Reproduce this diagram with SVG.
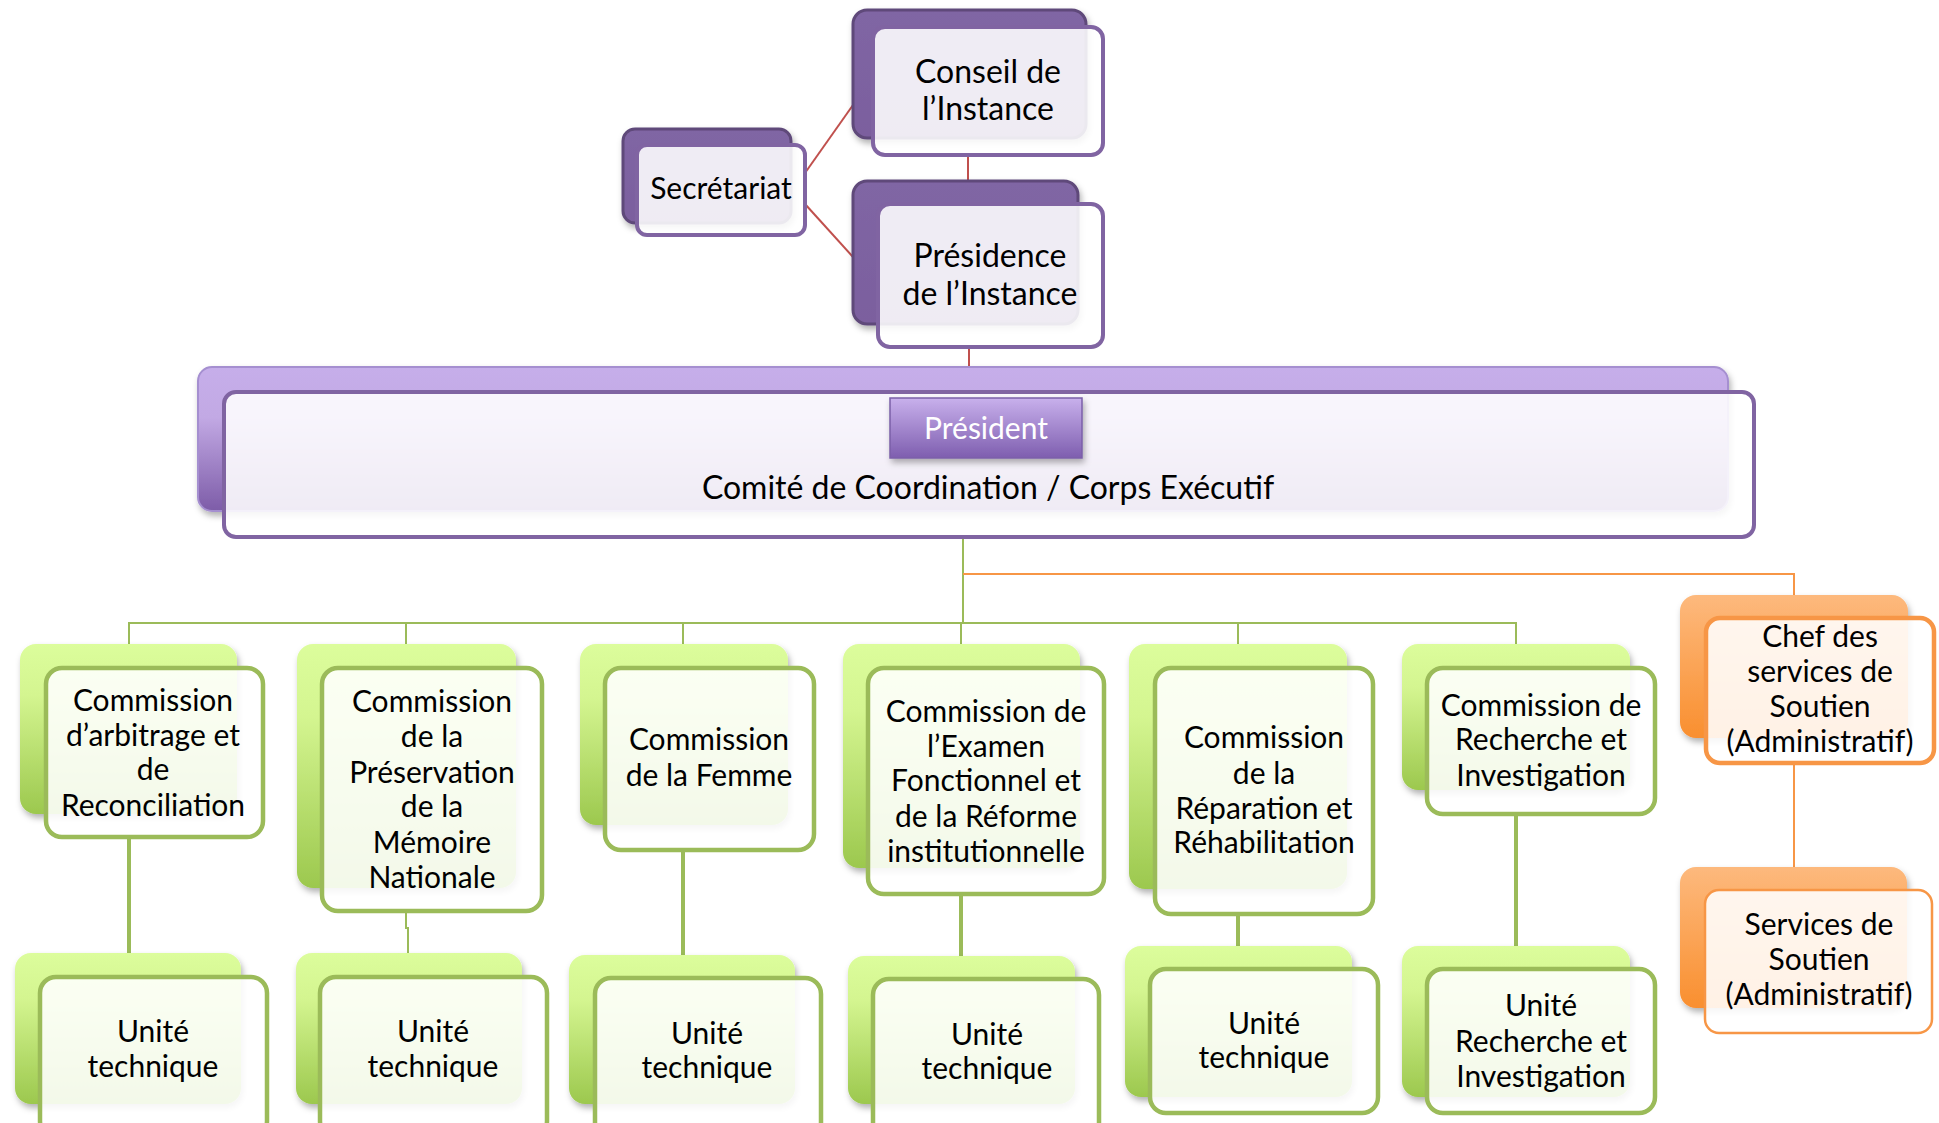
<svg xmlns="http://www.w3.org/2000/svg" width="1939" height="1123" viewBox="0 0 1939 1123">
<defs>
<linearGradient id="gPurple" x1="0" y1="0" x2="0" y2="1"><stop offset="0" stop-color="#8066a4"/><stop offset="1" stop-color="#7b5f9e"/></linearGradient>
<linearGradient id="gBig" x1="0" y1="0" x2="0" y2="1"><stop offset="0" stop-color="#c6aeea"/><stop offset="0.35" stop-color="#c2a9e4"/><stop offset="1" stop-color="#7d5ca8"/></linearGradient>
<linearGradient id="gPres" x1="0" y1="0" x2="0" y2="1"><stop offset="0" stop-color="#c8b0ec"/><stop offset="1" stop-color="#7e5eaf"/></linearGradient>
<linearGradient id="gGreen" x1="0" y1="0" x2="0" y2="1"><stop offset="0" stop-color="#dcfd9c"/><stop offset="0.3" stop-color="#d4f590"/><stop offset="1" stop-color="#9cc84e"/></linearGradient>
<linearGradient id="gOrange" x1="0" y1="0" x2="0" y2="1"><stop offset="0" stop-color="#fdb97d"/><stop offset="1" stop-color="#f98f2f"/></linearGradient>
<filter id="sh" x="-10%" y="-10%" width="125%" height="130%"><feDropShadow dx="2" dy="4" stdDeviation="3" flood-color="#000" flood-opacity="0.3"/></filter>
</defs>
<style>
text{font-family:Lato,"Open Sans","Liberation Sans",sans-serif;font-size:30px;fill:#000;text-anchor:middle}
.big{font-size:32px}
.pb{fill:url(#gPurple);stroke:#5f497a;stroke-width:3;filter:url(#sh)}
.pf{fill:#fff;fill-opacity:0.88;stroke:#8064a2;stroke-width:4}
.gb{fill:url(#gGreen);filter:url(#sh)}
.gf{fill:#fff;fill-opacity:0.88;stroke:#9bbb59;stroke-width:4.5}
.ob{fill:url(#gOrange);filter:url(#sh)}
.of{fill:#fff;fill-opacity:0.88;stroke:#f79646;stroke-width:4.5}
.of2{fill:#fff;fill-opacity:0.88;stroke:#f79646;stroke-width:2.5}
.red{stroke:#c0504d;stroke-width:2;fill:none}
.gl{stroke:#9bbb59;stroke-width:2;fill:none}
.gl2{stroke:#9bbb59;stroke-width:4;fill:none}
.ol{stroke:#f79646;stroke-width:2;fill:none}
</style>
<g id="connectors">
<path class="red" d="M805,173 L853,105"/>
<path class="red" d="M805,204 L853,257"/>
<path class="red" d="M968,155 L968,181"/>
<path class="red" d="M969,347 L969,368"/>
<path class="gl" d="M963,537 L963,623"/>
<path class="gl" d="M129,644 L129,623 L1516,623 L1516,644"/>
<path class="gl" d="M406,623 L406,644 M683,623 L683,644 M961,623 L961,644 M1238,623 L1238,644"/>
<path class="ol" d="M963,574 L1794,574 L1794,596"/>
<path class="gl2" d="M129,837 L129,953"/>
<path class="gl" d="M406,911 L406,928 L408,928 L408,953"/>
<path class="gl2" d="M683,850 L683,955"/>
<path class="gl2" d="M961,894 L961,956"/>
<path class="gl2" d="M1238,914 L1238,946"/>
<path class="gl2" d="M1516,814 L1516,946"/>
<path class="ol" d="M1794,764 L1794,867"/>
</g>
<g id="conseil">
<rect class="pb" x="853" y="10" width="233" height="128" rx="14"/>
<rect class="pf" x="873" y="27" width="230" height="128" rx="12"/>
<text class="big" x="988" y="83">Conseil de</text>
<text class="big" x="988" y="120">l’Instance</text>
</g>
<g id="secretariat">
<rect class="pb" x="623" y="129" width="168" height="94" rx="12"/>
<rect class="pf" x="637" y="145" width="168" height="90" rx="10"/>
<text x="721" y="199">Secrétariat</text>
</g>
<g id="presidence">
<rect class="pb" x="853" y="181" width="225" height="143" rx="14"/>
<rect class="pf" x="878" y="204" width="225" height="143" rx="12"/>
<text class="big" x="990" y="267">Présidence</text>
<text class="big" x="990" y="305">de l’Instance</text>
</g>
<g id="comite">
<rect x="198" y="367" width="1530" height="144" rx="14" fill="url(#gBig)" stroke="#a58fd0" stroke-width="2" filter="url(#sh)"/>
<rect class="pf" x="224" y="392" width="1530" height="145" rx="12"/>
<rect x="890" y="398" width="192" height="60" fill="url(#gPres)" stroke="#7b5fa8" stroke-width="1.5" filter="url(#sh)"/>
<text x="986" y="439" style="fill:#fff">Président</text>
<text class="big" x="988" y="499">Comité de Coordination / Corps Exécutif</text>
</g>
<g id="com1">
<rect class="gb" x="20" y="644" width="217" height="170" rx="16"/>
<rect class="gf" x="46" y="668" width="217" height="169" rx="16"/>
<text x="153" y="711">Commission</text>
<text x="153" y="746">d’arbitrage et</text>
<text x="153" y="780">de</text>
<text x="153" y="816">Reconciliation</text>
</g>
<g id="com2">
<rect class="gb" x="297" y="644" width="219" height="244" rx="16"/>
<rect class="gf" x="322" y="668" width="220" height="243" rx="16"/>
<text x="432" y="712">Commission</text>
<text x="432" y="747">de la</text>
<text x="432" y="783">Préservation</text>
<text x="432" y="817">de la</text>
<text x="432" y="853">Mémoire</text>
<text x="432" y="888">Nationale</text>
</g>
<g id="com3">
<rect class="gb" x="580" y="644" width="208" height="181" rx="16"/>
<rect class="gf" x="605" y="668" width="209" height="182" rx="16"/>
<text x="709" y="750">Commission</text>
<text x="709" y="786">de la Femme</text>
</g>
<g id="com4">
<rect class="gb" x="843" y="644" width="237" height="224" rx="16"/>
<rect class="gf" x="868" y="668" width="236" height="226" rx="16"/>
<text x="986" y="722">Commission de</text>
<text x="986" y="757">l’Examen</text>
<text x="986" y="791">Fonctionnel et</text>
<text x="986" y="827">de la Réforme</text>
<text x="986" y="862">institutionnelle</text>
</g>
<g id="com5">
<rect class="gb" x="1129" y="644" width="218" height="245" rx="16"/>
<rect class="gf" x="1155" y="668" width="218" height="246" rx="16"/>
<text x="1264" y="748">Commission</text>
<text x="1264" y="784">de la</text>
<text x="1264" y="819">Réparation et</text>
<text x="1264" y="853">Réhabilitation</text>
</g>
<g id="com6">
<rect class="gb" x="1402" y="644" width="228" height="146" rx="16"/>
<rect class="gf" x="1427" y="668" width="228" height="146" rx="16"/>
<text x="1541" y="716">Commission de</text>
<text x="1541" y="750">Recherche et</text>
<text x="1541" y="786">Investigation</text>
</g>
<g id="chef">
<rect class="ob" x="1680" y="595" width="228" height="143" rx="16"/>
<rect class="of" x="1706" y="618" width="228" height="145" rx="14"/>
<text x="1820" y="647">Chef des</text>
<text x="1820" y="682">services de</text>
<text x="1820" y="717">Soutien</text>
<text x="1820" y="752">(Administratif)</text>
</g>
<g id="unite1">
<rect class="gb" x="15" y="953" width="226" height="151" rx="16"/>
<rect class="gf" x="40" y="977" width="227" height="160" rx="16"/>
<text x="153" y="1042">Unité</text>
<text x="153" y="1077">technique</text>
</g>
<g id="unite2">
<rect class="gb" x="296" y="953" width="226" height="151" rx="16"/>
<rect class="gf" x="320" y="977" width="227" height="160" rx="16"/>
<text x="433" y="1042">Unité</text>
<text x="433" y="1077">technique</text>
</g>
<g id="unite3">
<rect class="gb" x="569" y="955" width="226" height="149" rx="16"/>
<rect class="gf" x="595" y="978" width="226" height="160" rx="16"/>
<text x="707" y="1044">Unité</text>
<text x="707" y="1078">technique</text>
</g>
<g id="unite4">
<rect class="gb" x="848" y="956" width="227" height="148" rx="16"/>
<rect class="gf" x="873" y="979" width="226" height="160" rx="16"/>
<text x="987" y="1045">Unité</text>
<text x="987" y="1079">technique</text>
</g>
<g id="unite5">
<rect class="gb" x="1125" y="946" width="227" height="151" rx="16"/>
<rect class="gf" x="1150" y="969" width="228" height="144" rx="16"/>
<text x="1264" y="1034">Unité</text>
<text x="1264" y="1068">technique</text>
</g>
<g id="unite6">
<rect class="gb" x="1402" y="946" width="228" height="151" rx="16"/>
<rect class="gf" x="1427" y="969" width="228" height="144" rx="16"/>
<text x="1541" y="1016">Unité</text>
<text x="1541" y="1052">Recherche et</text>
<text x="1541" y="1087">Investigation</text>
</g>
<g id="services">
<rect class="ob" x="1680" y="867" width="227" height="141" rx="16"/>
<rect class="of2" x="1705" y="890" width="227" height="143" rx="14"/>
<text x="1819" y="935">Services de</text>
<text x="1819" y="970">Soutien</text>
<text x="1819" y="1005">(Administratif)</text>
</g>
</svg>
